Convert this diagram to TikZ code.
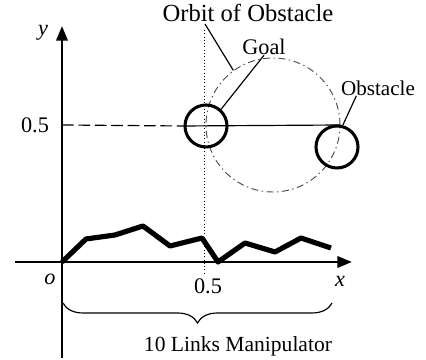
\documentclass[tikz,border=0pt]{standalone}
\usepackage{fontspec}
\setmainfont{Liberation Serif}
\usetikzlibrary{arrows.meta,decorations.pathreplacing}

\begin{document}
\begin{tikzpicture}[
    x=0.15mm, y=-0.15mm,
    every node/.style={font=\fontsize{9.5}{11}\selectfont, inner sep=0pt},
    axis/.style={line width=1.1pt, -{Triangle[length=2.2mm, width=1.7mm]}},
    ring/.style={circle, draw, line width=1.3pt, minimum size=6.3mm},
    orbitring/.style={circle, draw=black!70, line width=0.4pt,
        dash pattern=on 3pt off 1.5pt on 0.6pt off 1.5pt, minimum size=20.1mm},
    leader/.style={line width=0.5pt},
    guide/.style={line width=0.4pt, densely dotted},
    link/.style={line width=2.2pt, line join=round},
]
\useasboundingbox (0,0) rectangle (426,360);

% axes
\coordinate (o) at (62,262);
\coordinate (ybot) at (62,358);
\coordinate (ytip) at (62,26);
\coordinate (xleft) at (15,262);
\coordinate (xtip) at (352,262);
\draw[axis] (ybot) -- (ytip);
\draw[axis] (xleft) -- (xtip);

\node (ylbl) at (43,33) {\itshape y};
\node (olbl) at (50,279) {\itshape o};
\node (xlbl) at (340,281) {\itshape x};
\node (xhalf) at (208,286) {0.5};
\node (yhalf) at (35,125) {0.5};

% goal, obstacle and its orbit
\node[orbitring] (orbit) at (273,125) {};
\node[ring] (goal) at (206,126) {};
\node[ring] (obst) at (337,147) {};

\coordinate (gtop) at (204,30);
\coordinate (gbot) at (204,276);
\coordinate (yhalfpt) at (62,125);
\draw[guide] (gtop) -- (gbot);
\draw[leader, dash pattern=on 5pt off 2pt] (yhalfpt) -- (goal.west);
\draw[leader] (goal.west) -- (orbit.east);

% labels
\node[font=\fontsize{10.5}{12}\selectfont] (orbitlbl) at (248,13) {Orbit of Obstacle};
\node (goallbl) at (264,47) {Goal};
\node[font=\fontsize{9}{10}\selectfont] (obstlbl) at (378,88) {Obstacle};
\coordinate (orbitfoot) at (205,24);
\draw[leader] (orbitfoot) -- (orbit.126);
\draw[leader] (goallbl.south) -- (goal.48);
\draw[leader] (obstlbl.200) -- (obst.75);

% manipulator
\foreach \n/\p in {1/{86,239}, 2/{115,235}, 3/{143,226}, 4/{170,246}, 5/{202,238},
    6/{218,262}, 7/{245,243}, 8/{275,252}, 9/{301,238}, 10/{331,248}}
    \coordinate (j\n) at (\p);
\draw[link] (o) -- (j1) -- (j2) -- (j3) -- (j4) -- (j5) -- (j6) -- (j7) -- (j8) -- (j9) -- (j10);

\coordinate (bl) at (63,303);
\coordinate (br) at (332,303);
\draw[leader, decorate, decoration={brace, amplitude=3mm, mirror}] (bl) -- (br);
\node[font=\fontsize{9.2}{11}\selectfont] (manlbl) at (238,346) {10 Links Manipulator};
\end{tikzpicture}
\end{document}
